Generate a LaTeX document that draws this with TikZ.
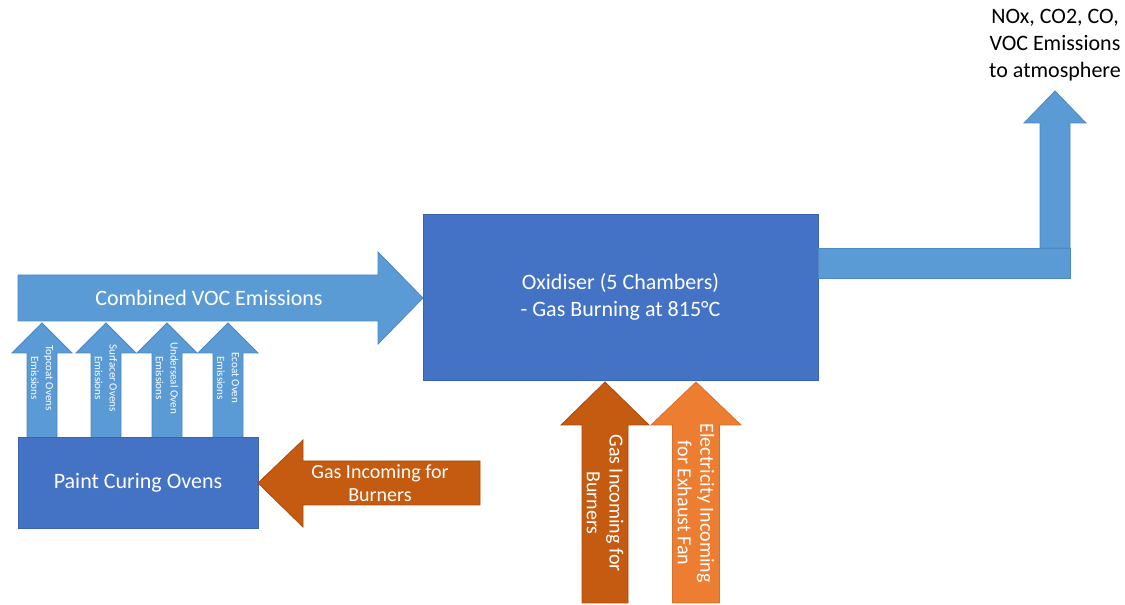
\documentclass[tikz,border=0pt]{standalone}
\usepackage{fontspec}
\setmainfont{Carlito}
\usepackage{tikz}
\usetikzlibrary{positioning}
\definecolor{boxblue}{HTML}{4472C4}
\definecolor{boxedge}{HTML}{3A63AE}
\definecolor{pipeblue}{HTML}{5B9BD5}
\definecolor{pipeedge}{HTML}{4F88BE}
\definecolor{gasorange}{HTML}{C55A11}
\definecolor{elecorange}{HTML}{ED7D31}
\newcommand{\bigtxt}{\fontsize{16.5}{20}\selectfont}
\newcommand{\midtxt}{\fontsize{15}{17}\selectfont}
\newcommand{\smalltxt}{\fontsize{8.3}{11}\selectfont}
\tikzstyle{plant}=[draw=boxedge,fill=boxblue,line width=0.6pt,text=white,inner sep=0,
  align=center,font=\bigtxt]
\tikzstyle{voc}=[draw=pipeedge,fill=pipeblue,line width=0.6pt]
\tikzstyle{gas}=[draw=gasorange!85!black,fill=gasorange,line width=0.6pt]
\tikzstyle{elec}=[draw=elecorange!90!black,fill=elecorange,line width=0.6pt]
\tikzstyle{lbl}=[text=white,inner sep=0,align=center]
% up arrow: style, centre x, tip y, head base y, foot y, shaft half width, head half width
\newcommand{\uparr}[7]{\filldraw[#1] (#2-#6,#5) -- (#2-#6,#4) -- (#2-#7,#4) -- (#2,#3)
  -- (#2+#7,#4) -- (#2+#6,#4) -- (#2+#6,#5) -- cycle;}

\begin{document}
\begin{tikzpicture}[x=0.75pt,y=-0.75pt]
  \useasboundingbox (0,0) rectangle (1125,605);

  % oven exhausts
  \foreach \cx/\name/\txt in {42/topcoat/Topcoat Ovens,106/surfacer/Surfacer Ovens,
      167/underseal/Underseal Oven,228/ecoat/Ecoat Oven}{
    \uparr{voc}{\cx}{323}{353}{438}{15}{30}
    \node[lbl,rotate=-90,font=\smalltxt] (\name) at (\cx,378) {\txt\\Emissions};
  }

  \node[plant,minimum width=240*0.75pt,minimum height=91*0.75pt] (ovens) at (138,483)
    {Paint Curing Ovens};

  \filldraw[voc] (18,275) -- (378,275) -- (378,252) -- (423,298) -- (378,344)
    -- (378,321) -- (18,321) -- cycle;
  \node[lbl,font=\bigtxt] (combined) at (209,298) {Combined VOC Emissions};

  \node[plant,minimum width=395*0.75pt,minimum height=166*0.75pt] (oxid) at (620.5,297)
    {Oxidiser (5 Chambers)\\- Gas Burning at 815°C};

  % stack
  \filldraw[voc] (818,248) rectangle (1070,278);
  \uparr{voc}{1055}{91}{123}{248}{15}{31}
  \node[align=center,inner sep=0,font=\bigtxt] (atmos) at (1055,45)
    {NOx, CO2, CO,\\VOC Emissions\\to atmosphere};

  % gas and power in
  \filldraw[gas] (480,461) -- (303,461) -- (303,440) -- (258,483) -- (303,527)
    -- (303,505) -- (480,505) -- cycle;
  \node[lbl,font=\midtxt] (gasovens) at (380,483) {Gas Incoming for\\Burners};

  \uparr{gas}{605}{382}{425}{603}{23}{44}
  \node[lbl,rotate=-90,font=\midtxt] (gasoxid) at (605,503) {Gas Incoming for\\Burners};
  \uparr{elec}{696}{382}{425}{603}{23.5}{45}
  \node[lbl,rotate=-90,font=\midtxt] (fan) at (696,503) {Electricity Incoming\\for Exhaust Fan};
\end{tikzpicture}
\end{document}
